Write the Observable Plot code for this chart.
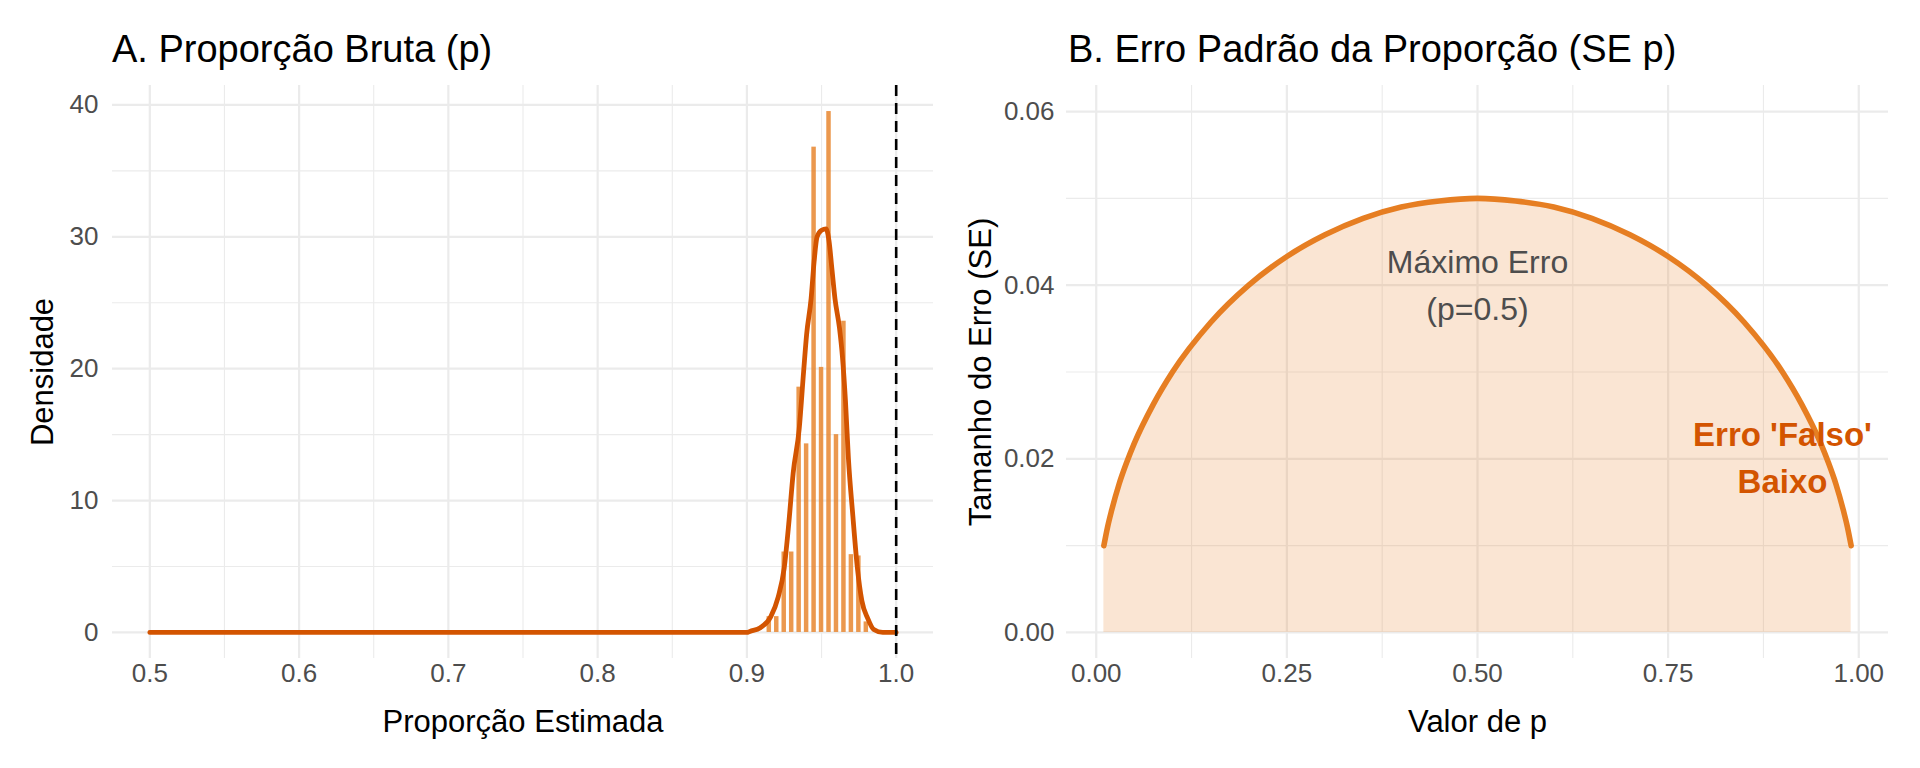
<!DOCTYPE html>
<html><head><meta charset="utf-8">
<script src="https://cdn.jsdelivr.net/npm/d3@7"></script>
<script src="https://cdn.jsdelivr.net/npm/@observablehq/plot@0.6"></script>
<style>
body{margin:0;background:#fff;font-family:"Liberation Sans",Arial,sans-serif;}
#wrap{position:relative;width:1920px;height:768px;display:flex;overflow:hidden;}
.panel{position:relative;width:960px;height:768px;}
.title{position:absolute;top:30px;font-size:38px;line-height:38px;color:#000;white-space:nowrap;}
svg{display:block;}
</style></head><body>
<div id="wrap">
  <div class="panel" id="pA"><div class="title" style="left:112px">A. Proporção Bruta (p)</div></div>
  <div class="panel" id="pB"><div class="title" style="left:108px">B. Erro Padrão da Proporção (SE p)</div></div>
</div>
<script>
// Panel A: histogram of estimated proportions (density scale)
const histBins = [0.915, 0.92, 0.925, 0.93, 0.935, 0.94, 0.945, 0.95, 0.955, 0.96, 0.965, 0.97, 0.975, 0.98];
const histDensity = [1.2, 1.2, 6.1, 6.1, 18.6, 14.3, 36.8, 20.1, 39.5, 15.0, 23.6, 5.9, 5.8, 0.8];
// Panel A: density curve
const densityX = [0.5, 0.9, 0.902, 0.909, 0.916, 0.921, 0.925, 0.928, 0.931, 0.935, 0.938, 0.940, 0.943, 0.945, 0.947, 0.950, 0.953, 0.955, 0.957, 0.959, 0.962, 0.964, 0.966, 0.968, 0.971, 0.974, 0.977, 0.981, 0.985, 0.991, 1.0];
const densityY = [0, 0, 0.08, 0.36, 1.2, 2.7, 4.9, 8.2, 12.1, 15.4, 19.8, 22.6, 25.3, 28.1, 30.0, 30.5, 30.6, 29.7, 27.5, 25.3, 23.1, 20.9, 17.6, 13.2, 8.8, 4.9, 2.4, 1.05, 0.22, 0, 0];
const refLine = [1.0];
// Panel B: standard error curve
const pValues = [0.01, 0.015, 0.02, 0.03, 0.04, 0.05, 0.075, 0.10, 0.15, 0.20, 0.25, 0.30, 0.35, 0.40, 0.45, 0.50, 0.55, 0.60, 0.65, 0.70, 0.75, 0.80, 0.85, 0.90, 0.925, 0.95, 0.96, 0.97, 0.98, 0.985, 0.99];
const seValues = [0.0100, 0.0122, 0.0140, 0.0171, 0.0196, 0.0218, 0.0263, 0.0300, 0.0357, 0.0400, 0.0433, 0.0458, 0.0477, 0.0490, 0.0497, 0.0500, 0.0497, 0.0490, 0.0477, 0.0458, 0.0433, 0.0400, 0.0357, 0.0300, 0.0263, 0.0218, 0.0196, 0.0171, 0.0140, 0.0122, 0.0100];
const annotMax = [{x: 0.5, y: 0.04, label: "Máximo Erro\n(p=0.5)"}];
const annotLow = [{x: 0.9, y: 0.02, label: "Erro 'Falso'\nBaixo"}];
// Ticks
const xTicksA = [0.5, 0.6, 0.7, 0.8, 0.9, 1.0];
const xMinorA = [0.55, 0.65, 0.75, 0.85, 0.95];
const yTicksA = [0, 10, 20, 30, 40];
const yMinorA = [5, 15, 25, 35];
const xTicksB = [0, 0.25, 0.5, 0.75, 1];
const xMinorB = [0.125, 0.375, 0.625, 0.875];
const yTicksB = [0, 0.02, 0.04, 0.06];
const yMinorB = [0.01, 0.03, 0.05];

const font = '"Liberation Sans", Arial, sans-serif';
const gridMajor = {stroke: "#EBEBEB", strokeWidth: 2.2};
const gridMinor = {stroke: "#EBEBEB", strokeWidth: 1.1};
const tickStyle = {fontSize: 26, fill: "#4D4D4D", tickSize: 0};
const axisTitle = {fontSize: 31, fill: "#000"};

const hist = histBins.map((x, i) => ({x, d: histDensity[i]}));
const dens = densityX.map((x, i) => ({x, y: densityY[i]}));
const se = pValues.map((p, i) => ({p, se: seValues[i]}));

const plotA = Plot.plot({
  width: 960, height: 768,
  marginLeft: 112, marginRight: 27, marginTop: 85, marginBottom: 110,
  style: {fontFamily: font, background: "transparent", overflow: "visible"},
  x: {domain: [0.475, 1.025]},
  y: {domain: [-1.975, 41.475]},
  marks: [
    Plot.ruleX(xMinorA, gridMinor),
    Plot.ruleY(yMinorA, gridMinor),
    Plot.ruleX(xTicksA, gridMajor),
    Plot.ruleY(yTicksA, gridMajor),
    Plot.rectY(hist, {x1: d => d.x - 0.0015, x2: d => d.x + 0.0015, y1: 0, y2: "d", fill: "#E67E22", fillOpacity: 0.8}),
    Plot.line(dens, {x: "x", y: "y", stroke: "#D35400", strokeWidth: 4.8, curve: "monotone-x"}),
    Plot.ruleX(refLine, {stroke: "#000", strokeWidth: 2.6, strokeDasharray: "11,7"}),
    Plot.axisX({ticks: xTicksA, tickFormat: d3.format(".1f"), tickPadding: 5, label: null, ...tickStyle}),
    Plot.axisY({ticks: yTicksA, tickFormat: d3.format("d"), tickPadding: 14, label: null, ...tickStyle}),
    Plot.text(["Proporção Estimada"], {frameAnchor: "bottom", lineAnchor: "bottom", dy: 73, ...axisTitle}),
    Plot.text(["Densidade"], {frameAnchor: "left", textAnchor: "middle", rotate: -90, dx: -69, ...axisTitle})
  ]
});
document.getElementById("pA").appendChild(plotA);

const plotB = Plot.plot({
  width: 960, height: 768,
  marginLeft: 106, marginRight: 32, marginTop: 85, marginBottom: 110,
  style: {fontFamily: font, background: "transparent", overflow: "visible"},
  x: {domain: [-0.039, 1.039]},
  y: {domain: [-0.003, 0.063]},
  marks: [
    Plot.ruleX(xMinorB, gridMinor),
    Plot.ruleY(yMinorB, gridMinor),
    Plot.ruleX(xTicksB, gridMajor),
    Plot.ruleY(yTicksB, gridMajor),
    Plot.areaY(se, {x: "p", y: "se", fill: "#E67E22", fillOpacity: 0.2, curve: "monotone-x"}),
    Plot.line(se, {x: "p", y: "se", stroke: "#E67E22", strokeWidth: 5.6, curve: "monotone-x"}),
    Plot.text(annotMax, {x: "x", y: "y", text: "label", fontSize: 32, fill: "#4D4D4D", lineHeight: 1.47, dy: -4}),
    Plot.text(annotLow, {x: "x", y: "y", text: "label", fontSize: 33, fontWeight: "bold", fill: "#D35400", lineHeight: 1.41, dy: -4}),
    Plot.axisX({ticks: xTicksB, tickFormat: d3.format(".2f"), tickPadding: 5, label: null, ...tickStyle}),
    Plot.axisY({ticks: yTicksB, tickFormat: d3.format(".2f"), tickPadding: 12, label: null, ...tickStyle}),
    Plot.text(["Valor de p"], {frameAnchor: "bottom", lineAnchor: "bottom", dy: 73, ...axisTitle}),
    Plot.text(["Tamanho do Erro (SE)"], {frameAnchor: "left", textAnchor: "middle", rotate: -90, dx: -85, ...axisTitle})
  ]
});
document.getElementById("pB").appendChild(plotB);
</script>
</body></html>
